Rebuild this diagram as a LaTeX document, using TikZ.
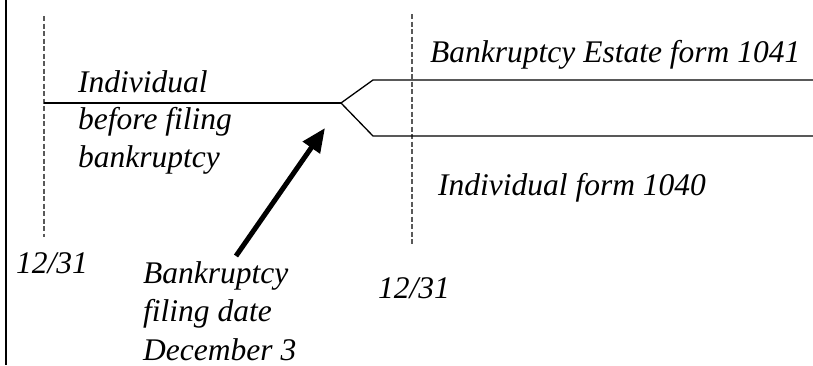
\documentclass[tikz,border=0pt]{standalone}
\usepackage{fontspec}
\setmainfont{Liberation Serif}
\usetikzlibrary{arrows.meta}
\begin{document}
\begin{tikzpicture}[x=1pt,y=-1pt,
  lbl/.style={font=\fontsize{31.5}{37.5}\selectfont\itshape, inner sep=0pt, anchor=base west, align=left},
  guide/.style={draw=black!65, line width=1.3pt, dash pattern=on 5pt off 2.5pt},
  track/.style={draw=black, line width=1.3pt},
  frame/.style={draw=black, line width=2pt},
  pointer/.style={draw=black, line width=5pt, -{Triangle[length=24pt,width=20pt]}}]
\useasboundingbox (0,0) rectangle (813,365);
% left frame line
\coordinate (ftop) at (6,0);
\coordinate (fbot) at (6,365);
\draw[frame] (ftop) -- (fbot);
% dashed year-end guides
\coordinate (g1t) at (44,16);
\coordinate (g1b) at (44,237);
\coordinate (g2t) at (412,14);
\coordinate (g2b) at (412,246);
\draw[guide] (g1t) -- (g1b);
\draw[guide] (g2t) -- (g2b);
% tracks
\coordinate (start) at (44,103);
\coordinate (split) at (341,103);
\coordinate (upk) at (373,80);
\coordinate (upend) at (813,80);
\coordinate (lok) at (373,136);
\coordinate (loend) at (813,136);
\draw[track] (start) -- (split);
\draw[track] (split) -- (upk) -- (upend);
\draw[track] (split) -- (lok) -- (loend);
% arrow
\coordinate (atail) at (236,256);
\coordinate (ahead) at (325,128);
\draw[pointer] (atail) -- (ahead);
% labels (multi-line nodes: base = last line's baseline)
\node[lbl] (indiv) at (78,167) {Individual\\before filing\\bankruptcy};
\node[lbl] (estate) at (430,62) {Bankruptcy Estate form 1041};
\node[lbl] (ind1040) at (438,195) {Individual form 1040};
\node[lbl, font=\fontsize{31.5}{38.5}\selectfont\itshape] (filing) at (143,360) {Bankruptcy\\filing date\\December 3};
\node[lbl] (ye1) at (16,273) {12/31};
\node[lbl] (ye2) at (378,298) {12/31};
\end{tikzpicture}
\end{document}
